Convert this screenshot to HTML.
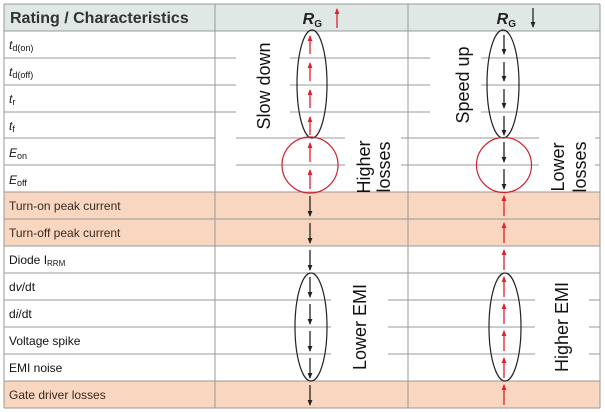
<!DOCTYPE html>
<html><head><meta charset="utf-8"><style>
html,body{margin:0;padding:0;background:#fff}
svg{display:block}
text{font-family:"Liberation Sans",Arial,sans-serif}
</style></head><body>
<svg width="605" height="412" viewBox="0 0 605 412" xmlns="http://www.w3.org/2000/svg">
<defs>
<marker id="hr" markerWidth="6" markerHeight="6" refX="5" refY="3" orient="auto" markerUnits="userSpaceOnUse"><path d="M0,0.6 L6,3 L0,5.4 Z" fill="#e0202e"/></marker>
<marker id="hk" markerWidth="6" markerHeight="6" refX="5" refY="3" orient="auto" markerUnits="userSpaceOnUse"><path d="M0,0.6 L6,3 L0,5.4 Z" fill="#222"/></marker>
</defs>
<rect x="4" y="4" width="596" height="27" fill="#dfe8e5"/>
<g fill="#f8d6c0">
<rect x="4" y="192" width="596" height="54"/>
<rect x="4" y="381" width="596" height="27"/>
</g>
<g stroke="#999" stroke-width="1">
<line x1="4" y1="4" x2="600" y2="4"/>
<line x1="4" y1="31" x2="600" y2="31"/>
<line x1="4" y1="58" x2="215" y2="58"/><line x1="4" y1="85" x2="215" y2="85"/><line x1="4" y1="112" x2="215" y2="112"/>
<line x1="4" y1="138" x2="215" y2="138"/><line x1="4" y1="165" x2="215" y2="165"/>
<line x1="4" y1="192" x2="600" y2="192"/><line x1="4" y1="219" x2="600" y2="219"/><line x1="4" y1="246" x2="600" y2="246"/><line x1="4" y1="273" x2="600" y2="273"/>
<line x1="4" y1="300" x2="215" y2="300"/><line x1="4" y1="327" x2="215" y2="327"/><line x1="4" y1="354" x2="215" y2="354"/>
<line x1="4" y1="381" x2="600" y2="381"/><line x1="4" y1="408" x2="600" y2="408"/>
<line x1="215" y1="58" x2="236" y2="58"/><line x1="290" y1="58" x2="430" y2="58"/><line x1="481" y1="58" x2="600" y2="58"/>
<line x1="215" y1="85" x2="236" y2="85"/><line x1="290" y1="85" x2="430" y2="85"/><line x1="481" y1="85" x2="600" y2="85"/>
<line x1="215" y1="112" x2="236" y2="112"/><line x1="290" y1="112" x2="430" y2="112"/><line x1="481" y1="112" x2="600" y2="112"/>
<line x1="236" y1="138" x2="345" y2="138"/><line x1="401" y1="138" x2="539" y2="138"/><line x1="595" y1="138" x2="600" y2="138"/>
<line x1="236" y1="165" x2="345" y2="165"/><line x1="401" y1="165" x2="539" y2="165"/><line x1="595" y1="165" x2="600" y2="165"/>
<line x1="215" y1="300" x2="331" y2="300"/><line x1="388" y1="300" x2="535" y2="300"/><line x1="589" y1="300" x2="600" y2="300"/>
<line x1="215" y1="327" x2="331" y2="327"/><line x1="388" y1="327" x2="535" y2="327"/><line x1="589" y1="327" x2="600" y2="327"/>
<line x1="215" y1="354" x2="331" y2="354"/><line x1="388" y1="354" x2="535" y2="354"/><line x1="589" y1="354" x2="600" y2="354"/>
<line x1="4" y1="4" x2="4" y2="408"/><line x1="215" y1="4" x2="215" y2="408"/><line x1="408" y1="4" x2="408" y2="408"/><line x1="600" y1="4" x2="600" y2="408"/>
</g>
<text x="10" y="23" font-size="16" font-weight="bold" fill="#333">Rating / Characteristics</text>
<text x="322" y="24" font-size="16" font-weight="bold" font-style="italic" fill="#222" text-anchor="end">R<tspan font-size="10" font-style="normal" dy="3">G</tspan></text>
<line x1="337" y1="28" x2="337" y2="9" stroke="#e0202e" stroke-width="1.3" marker-end="url(#hr)"/>
<text x="516" y="24" font-size="16" font-weight="bold" font-style="italic" fill="#222" text-anchor="end">R<tspan font-size="10" font-style="normal" dy="3">G</tspan></text>
<line x1="533" y1="8" x2="533" y2="27" stroke="#222" stroke-width="1.3" marker-end="url(#hk)"/>
<g font-size="12" fill="#111">
<text x="9" y="49" font-style="italic">t<tspan font-size="9" font-style="normal" dy="2">d(on)</tspan></text>
<text x="9" y="76" font-style="italic">t<tspan font-size="9" font-style="normal" dy="2">d(off)</tspan></text>
<text x="9" y="103" font-style="italic">t<tspan font-size="9" font-style="normal" dy="2">r</tspan></text>
<text x="9" y="130" font-style="italic">t<tspan font-size="9" font-style="normal" dy="2">f</tspan></text>
<text x="9" y="157" font-style="italic">E<tspan font-size="9" font-style="normal" dy="2">on</tspan></text>
<text x="9" y="184" font-style="italic">E<tspan font-size="9" font-style="normal" dy="2">off</tspan></text>
<text x="9" y="210" fill="#3a2a20">Turn-on peak current</text>
<text x="9" y="237" fill="#3a2a20">Turn-off peak current</text>
<text x="9" y="264">Diode I<tspan font-size="8" dy="2">RRM</tspan></text>
<text x="9" y="291">d<tspan font-style="italic">v</tspan>/dt</text>
<text x="9" y="318">d<tspan font-style="italic">i</tspan>/dt</text>
<text x="9" y="345">Voltage spike</text>
<text x="9" y="372">EMI noise</text>
<text x="9" y="399" fill="#3a2a20">Gate driver losses</text>
</g>
<g fill="none" stroke-width="1.2">
<ellipse cx="312" cy="84" rx="15" ry="54" stroke="#222"/>
<circle cx="310" cy="165" r="28" stroke="#d0202e"/>
<ellipse cx="503" cy="84" rx="16" ry="54" stroke="#222"/>
<circle cx="504" cy="165" r="27.5" stroke="#d0202e"/>
<ellipse cx="311" cy="327" rx="16" ry="54" stroke="#222"/>
<ellipse cx="505" cy="327" rx="16" ry="54" stroke="#222"/>
</g>
<g stroke="#e0202e" stroke-width="1.3">
<line x1="310" y1="54" x2="310" y2="36" marker-end="url(#hr)"/>
<line x1="310" y1="81" x2="310" y2="63" marker-end="url(#hr)"/>
<line x1="310" y1="108" x2="310" y2="90" marker-end="url(#hr)"/>
<line x1="310" y1="135" x2="310" y2="117" marker-end="url(#hr)"/>
<line x1="310" y1="162" x2="310" y2="143" marker-end="url(#hr)"/>
<line x1="310" y1="189" x2="310" y2="170" marker-end="url(#hr)"/>
<line x1="504" y1="216" x2="504" y2="196" marker-end="url(#hr)"/>
<line x1="504" y1="243" x2="504" y2="223" marker-end="url(#hr)"/>
<line x1="504" y1="270" x2="504" y2="250" marker-end="url(#hr)"/>
<line x1="504" y1="297" x2="504" y2="277" marker-end="url(#hr)"/>
<line x1="504" y1="324" x2="504" y2="304" marker-end="url(#hr)"/>
<line x1="504" y1="351" x2="504" y2="331" marker-end="url(#hr)"/>
<line x1="504" y1="378" x2="504" y2="358" marker-end="url(#hr)"/>
<line x1="504" y1="405" x2="504" y2="385" marker-end="url(#hr)"/>
</g>
<g stroke="#222" stroke-width="1.3">
<line x1="504" y1="35" x2="504" y2="54" marker-end="url(#hk)"/>
<line x1="504" y1="62" x2="504" y2="81" marker-end="url(#hk)"/>
<line x1="504" y1="89" x2="504" y2="108" marker-end="url(#hk)"/>
<line x1="504" y1="116" x2="504" y2="135" marker-end="url(#hk)"/>
<line x1="504" y1="142" x2="504" y2="162" marker-end="url(#hk)"/>
<line x1="504" y1="169" x2="504" y2="189" marker-end="url(#hk)"/>
<line x1="310" y1="196" x2="310" y2="216" marker-end="url(#hk)"/>
<line x1="310" y1="223" x2="310" y2="243" marker-end="url(#hk)"/>
<line x1="310" y1="250" x2="310" y2="270" marker-end="url(#hk)"/>
<line x1="310" y1="277" x2="310" y2="297" marker-end="url(#hk)"/>
<line x1="310" y1="304" x2="310" y2="324" marker-end="url(#hk)"/>
<line x1="310" y1="331" x2="310" y2="351" marker-end="url(#hk)"/>
<line x1="310" y1="358" x2="310" y2="378" marker-end="url(#hk)"/>
<line x1="310" y1="385" x2="310" y2="405" marker-end="url(#hk)"/>
</g>
<g font-size="18" fill="#111" text-anchor="middle">
<text transform="translate(270,86) rotate(-90)">Slow down</text>
<text transform="translate(469,85) rotate(-90)">Speed up</text>
<text transform="translate(370,167) rotate(-90)">Higher</text>
<text transform="translate(390,167) rotate(-90)">losses</text>
<text transform="translate(564,167) rotate(-90)">Lower</text>
<text transform="translate(586,167) rotate(-90)">losses</text>
<text transform="translate(366,327) rotate(-90)">Lower EMI</text>
<text transform="translate(568,327) rotate(-90)">Higher EMI</text>
</g>
</svg>
</body></html>
